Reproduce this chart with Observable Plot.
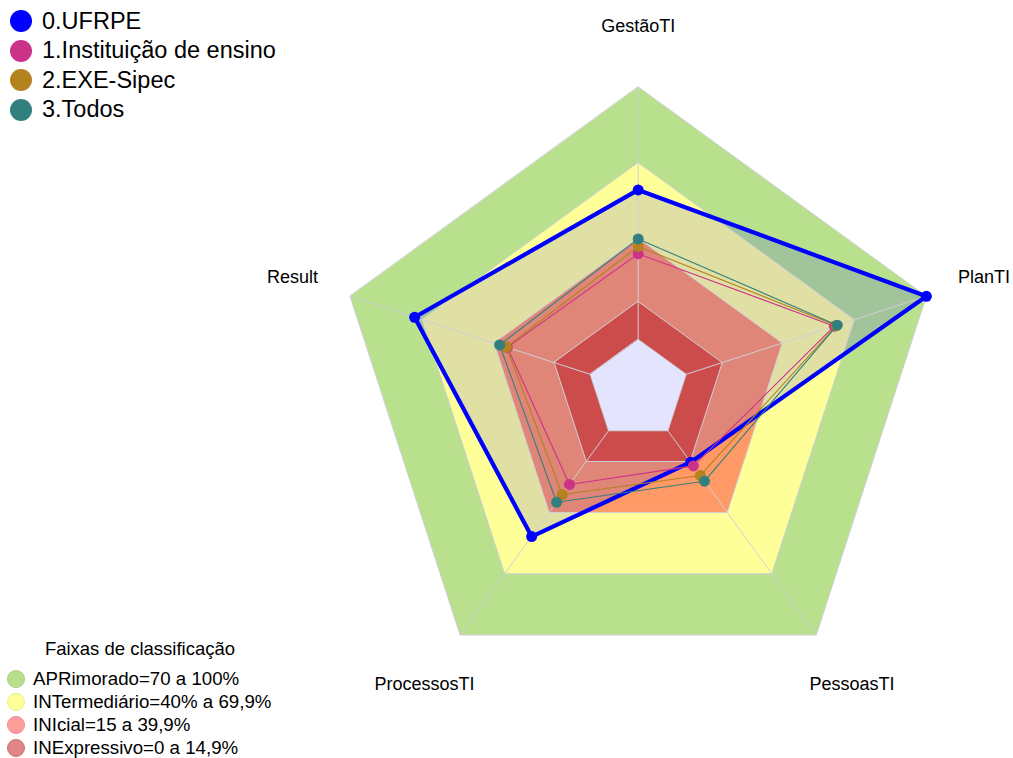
<!DOCTYPE html>
<html>
<head>
<meta charset="utf-8">
<script src="https://cdn.jsdelivr.net/npm/d3@7"></script>
<script src="https://cdn.jsdelivr.net/npm/@observablehq/plot@0.6"></script>
<style>
  body { margin: 0; background: #fff; font-family: "Liberation Sans", Arial, sans-serif; }
  #wrap { position: relative; width: 1013px; height: 758px; overflow: hidden; }
  #wrap svg { position: absolute; left: 0; top: 0; }
  .row { position: absolute; display: flex; align-items: center; white-space: nowrap; color: #000; }
  .sw { border-radius: 50%; flex: none; box-sizing: border-box; }
</style>
</head>
<body>
<div id="wrap"></div>
<script>
// ---- data ----
const axes = ["GestãoTI", "PlanTI", "PessoasTI", "ProcessosTI", "Result"];
const seriesNames = ["0.UFRPE", "1.Instituição de ensino", "2.EXE-Sipec", "3.Todos"];
const ufrpe       = [59.2, 100, 15.4, 51.8, 73.1];
const instituicao = [33.9, 61.7, 17.2, 26.3, 34.5];
const exeSipec    = [36.8, 62.5, 21.9, 31.2, 34.9];
const todos       = [39.8, 62.9, 24.7, 35.0, 37.7];
const seriesColors = ["#0000ff", "#cc3388", "#b4821e", "#32807d"];

const bandLevels = [100, 70, 40, 15];
const bandColors = ["#b9e08c", "#ffff99", "#ff9966", "#cc4c4c"];
const bandTitle = "Faixas de classificação";
const bandLabels = ["APRimorado=70 a 100%", "INTermediário=40% a 69,9%", "INIcial=15 a 39,9%", "INExpressivo=0 a 14,9%"];
const bandSwatch = ["#b8e08c", "#ffff99", "#ff9c9c", "#e08484"];
const bandSwatchStroke = ["#a6cf7c", "#ecec86", "#f08a8a", "#cc7070"];

// ---- geometry helpers ----
const W = 1013, H = 758;
const cx = 637.7, cy = 389.4, k = 2.525;  // layout: centre in px, px per unit
const hole = 20;                           // inner offset (value 0 radius)
const labelR = 1.2 * (hole + 100) - hole;  // labels at 1.2 x outer radius

function pt(v, i) {
  const r = hole + v, a = i * 2 * Math.PI / axes.length;
  return {x: r * Math.sin(a), y: r * Math.cos(a), axis: axes[i], value: v};
}
const poly = (vals) => vals.map((v, i) => pt(v, i));
const ring = (v) => axes.map((_, i) => pt(v, i));

const seriesData = [ufrpe, instituicao, exeSipec, todos];

const marks = [];
// bands (outer ones first)
bandLevels.slice(0, 3).forEach((lv, j) => {
  marks.push(Plot.line(ring(lv), {x: "x", y: "y", curve: "linear-closed", fill: bandColors[j], stroke: "none"}));
});
// UFRPE translucent fill
marks.push(Plot.line(poly(ufrpe), {x: "x", y: "y", curve: "linear-closed", fill: "#0000ff", fillOpacity: 0.12, stroke: "none"}));
// inner band + centre
marks.push(Plot.line(ring(bandLevels[3]), {x: "x", y: "y", curve: "linear-closed", fill: bandColors[3], stroke: "none"}));
marks.push(Plot.line(ring(0), {x: "x", y: "y", curve: "linear-closed", fill: "#e4e4ff", stroke: "none"}));
// band outlines
[...bandLevels, 0].forEach(lv => {
  marks.push(Plot.line(ring(lv), {x: "x", y: "y", curve: "linear-closed", stroke: "#cfcfd6", strokeWidth: 1}));
});
// spokes
const spokes = axes.map((a, i) => {
  const p0 = pt(0, i), p1 = pt(100, i);
  return {x1: p0.x, y1: p0.y, x2: p1.x, y2: p1.y};
});
marks.push(Plot.link(spokes, {x1: "x1", y1: "y1", x2: "x2", y2: "y2", stroke: "#cfcfd6", strokeWidth: 1}));
// series
seriesData.forEach((vals, s) => {
  const d = poly(vals);
  marks.push(Plot.line(d, {x: "x", y: "y", curve: "linear-closed", stroke: seriesColors[s], strokeWidth: s === 0 ? 4.2 : 1.1}));
  marks.push(Plot.dot(d, {x: "x", y: "y", r: 5.5, fill: seriesColors[s], stroke: "none"}));
});
// axis labels
marks.push(Plot.text(axes.map((a, i) => pt(labelR, i)), {
  x: "x", y: "y", text: "axis", textAnchor: "middle", lineAnchor: "middle",
  fontSize: 18, fill: "#000", fontFamily: "Liberation Sans, Arial, sans-serif"
}));

const chart = Plot.plot({
  width: W, height: H, margin: 0,
  x: {domain: [-cx / k, (W - cx) / k], range: [0, W], axis: null},
  y: {domain: [-(H - cy) / k, cy / k], range: [H, 0], axis: null},
  style: {background: "transparent", overflow: "visible"},
  marks
});
const wrap = document.getElementById("wrap");
wrap.appendChild(chart);

// ---- legends (HTML overlay) ----
function addRow(top, left, h, swSize, swColor, swStroke, text, fontSize, gap) {
  const row = document.createElement("div");
  row.className = "row";
  row.style.top = (top - h / 2) + "px";
  row.style.left = left + "px";
  row.style.height = h + "px";
  row.style.fontSize = fontSize + "px";
  if (swSize) {
    const sw = document.createElement("span");
    sw.className = "sw";
    sw.style.width = swSize + "px"; sw.style.height = swSize + "px";
    sw.style.background = swColor;
    if (swStroke) sw.style.border = "1px solid " + swStroke;
    sw.style.marginRight = gap + "px";
    row.appendChild(sw);
  }
  const t = document.createElement("span");
  t.textContent = text;
  row.appendChild(t);
  wrap.appendChild(row);
  return row;
}
seriesNames.forEach((n, i) => addRow(21 + i * 29.5, 10, 28, 22, seriesColors[i], null, n, 23.5, 10));

const title = document.createElement("div");
title.className = "row";
title.style.left = "0px"; title.style.width = "280px"; title.style.justifyContent = "center";
title.style.top = (649 - 12) + "px"; title.style.height = "24px"; title.style.fontSize = "18.5px";
title.textContent = bandTitle;
wrap.appendChild(title);
bandLabels.forEach((n, i) => addRow(679 + i * 23, 7, 23, 18, bandSwatch[i], bandSwatchStroke[i], n, 18.7, 8));
</script>
</body>
</html>
